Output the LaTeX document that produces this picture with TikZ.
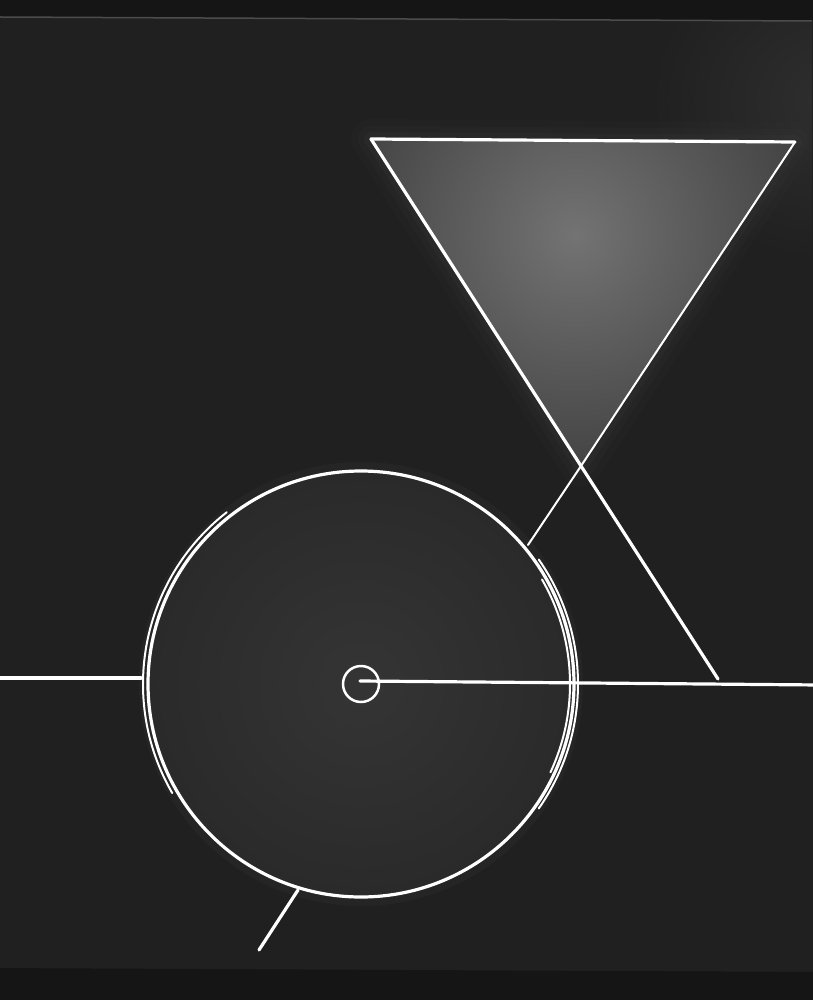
\documentclass[tikz,border=0pt]{standalone}
\begin{document}
\begin{tikzpicture}[x=1pt,y=-1pt,
  chalk/.style={draw=white,line width=3.2pt,line cap=round},
  thinchalk/.style={draw=white,line width=2pt,line cap=round}]
\definecolor{bg}{HTML}{202020}
\definecolor{band}{HTML}{151515}
\definecolor{tri}{HTML}{4E4E4E}
\definecolor{triin}{HTML}{737373}
\definecolor{disc}{HTML}{2A2A2A}
\useasboundingbox (0,0) rectangle (812,1000);
% background
\fill[bg] (-10,-10) rectangle (830,1010);
\begin{scope}
  \clip (0,0) rectangle (812,1000);
  \shade[inner color=bg!85!gray,outer color=bg] (830,100) ellipse (180 and 160);
\end{scope}
\fill[band] (-10,-10) -- (830,-10) -- (830,21) -- (-10,17) -- cycle;
\draw[gray!60!black,line width=1.5pt] (0,17) -- (812,21);
\fill[band] (-10,968) -- (830,972) -- (830,1010) -- (-10,1010) -- cycle;
% named points
\coordinate (tl) at (371,139);
\coordinate (tr) at (795,142);
\coordinate (x) at (581,466);
\coordinate (le) at (718,679);
\coordinate (re) at (528,545);
\coordinate (c) at (361,684);
\coordinate (hl0) at (-5,678);
\coordinate (hl1) at (141,678);
\coordinate (hr0) at (360,681);
\coordinate (hr1) at (820,685);
\coordinate (t0) at (298,890);
\coordinate (t1) at (259,950);
% triangle glow and fill
\foreach \w/\o in {40/0.05,26/0.07,14/0.1}
  \draw[tri,line width=\w pt,opacity=\o,line join=round] (tl) -- (tr) -- (x) -- cycle;
\begin{scope}
  \clip (tl) -- (tr) -- (x) -- cycle;
  \shade[inner color=triin,outer color=tri!80!black] (575,235) circle (260);
\end{scope}
% disc
\fill[disc,opacity=0.5] (c) circle (222);
\shade[inner color=disc!95!white,outer color=disc] (c) circle (212);
% lines of triangle
\draw[chalk] (tl) -- (tr);
\draw[chalk] (tl) -- (x) -- (le);
\draw[thinchalk] (tr) -- (x) -- (re);
% circle
\draw[chalk] (c) circle (213);
\draw[thinchalk] (c) ++(150:218) arc (150:232:218);
\draw[thinchalk] (c) ++(35:217) arc (35:-35:217);
\draw[thinchalk] (c) ++(25:209) arc (25:-30:209);
% small circle
\node[circle,draw=white,line width=2.5pt,minimum size=36pt,inner sep=0pt] (sc) at (c) {};
% horizontals
\draw[chalk] (hl0) -- (hl1);
\draw[chalk] (hr0) -- (hr1);
% tick
\draw[chalk] (t0) -- (t1);
\end{tikzpicture}
\end{document}
